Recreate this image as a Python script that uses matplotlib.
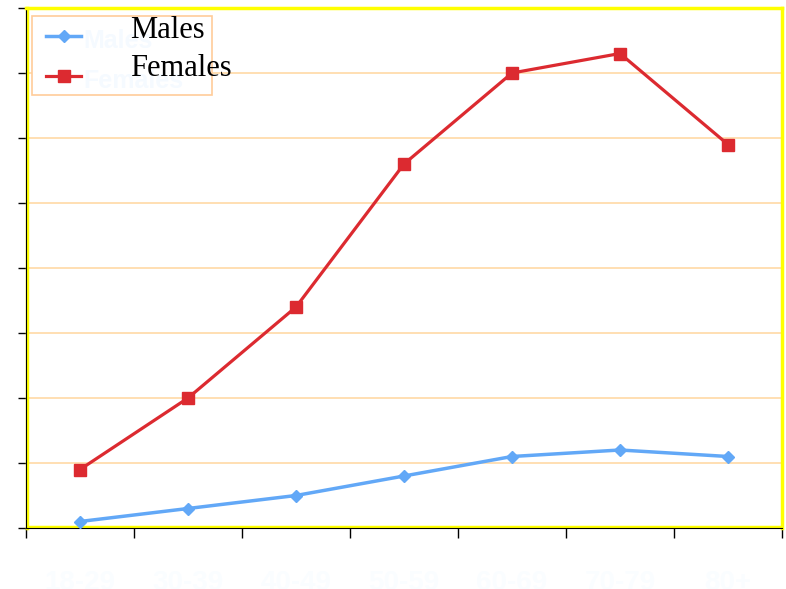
import matplotlib.pyplot as plt
from matplotlib.lines import Line2D
from matplotlib.patches import Rectangle
import numpy as np

# age groups and rates per series
age_groups = ['18-29', '30-39', '40-49', '50-59', '60-69', '70-79', '80+']
males = [0.5, 1.5, 2.5, 4.0, 5.5, 6.0, 5.5]
females = [4.5, 10.0, 17.0, 28.0, 35.0, 36.5, 29.5]
y_ticks = np.arange(0, 45, 5)

W, H = 786, 589
fig = plt.figure(figsize=(W / 100, H / 100), dpi=100)
ax = fig.add_axes([26 / W, 61 / H, 756 / W, 520 / H])

x = np.arange(1, len(age_groups) + 1)

for y in y_ticks[1:-1]:
    ax.axhline(y, color='#ffd9a6', lw=1.2, zorder=1)

styles = {
    'Males': dict(color='#62a8f7', lw=2.5, marker='D', ms=6),
    'Females': dict(color='#dc2a30', lw=2.3, marker='s', ms=8),
}
ax.plot(x, males, zorder=3, **styles['Males'])
ax.plot(x, females, zorder=3, **styles['Females'])

ax.set_xlim(0.5, len(age_groups) + 0.5)
ax.set_ylim(0, 40)

# yellow plot-area frame, black axis lines on left and bottom
for side in ['top', 'right']:
    ax.spines[side].set_color('#ffff00')
    ax.spines[side].set_linewidth(2.5)
ax.spines['left'].set_color('black')
ax.spines['bottom'].set_color('black')
ax.plot([0.51, 0.51], [0, 40], color='#ffff00', lw=2.5, zorder=2,
        clip_on=False)
ax.axhline(0.08, color='#ffff00', lw=2.5, zorder=2)

ax.set_yticks(y_ticks)
ax.set_yticklabels([])
ax.tick_params(axis='y', direction='out', length=6, width=1, color='black')

ax.set_xticks(x)
ax.set_xticklabels(age_groups, color='#fafdff', fontsize=20,
                   fontweight='bold', family='Liberation Sans')
ax.tick_params(axis='x', which='major', length=0, pad=30)
ax.set_xticks(np.arange(0.5, len(age_groups) + 1, 1), minor=True)
ax.tick_params(axis='x', which='minor', direction='out', length=7,
               width=1, color='black')


# legend box, drawn in pixel positions from the top-left corner
def fx(px):
    return px / W


def fy(py):
    return 1 - py / H


fig.add_artist(Rectangle((fx(32), fy(95)), fx(212) - fx(32), fy(16) - fy(95),
                         transform=fig.transFigure, facecolor='white',
                         edgecolor='#ffcc99', lw=1.2, zorder=4))
for name, row_y in [('Males', 36), ('Females', 76)]:
    st = styles[name]
    fig.add_artist(Line2D([fx(46), fx(81)], [fy(row_y)] * 2,
                          transform=fig.transFigure, color=st['color'],
                          lw=st['lw'], zorder=5))
    fig.add_artist(Line2D([fx(64)], [fy(row_y)], transform=fig.transFigure,
                          color=st['color'], marker=st['marker'],
                          ms=st['ms'], lw=0, zorder=5))
    fig.text(fx(83), fy(row_y + 5), name, fontsize=18, fontweight='bold',
             family='Liberation Sans', va='center', ha='left',
             color='#f5faff', zorder=5)

fig.text(fx(130), fy(30), 'Males', fontsize=22, family='Liberation Serif',
         va='center', ha='left', color='black', zorder=6)
fig.text(fx(130), fy(68), 'Females', fontsize=22, family='Liberation Serif',
         va='center', ha='left', color='black', zorder=6)

fig.savefig('out.png', dpi=100)
